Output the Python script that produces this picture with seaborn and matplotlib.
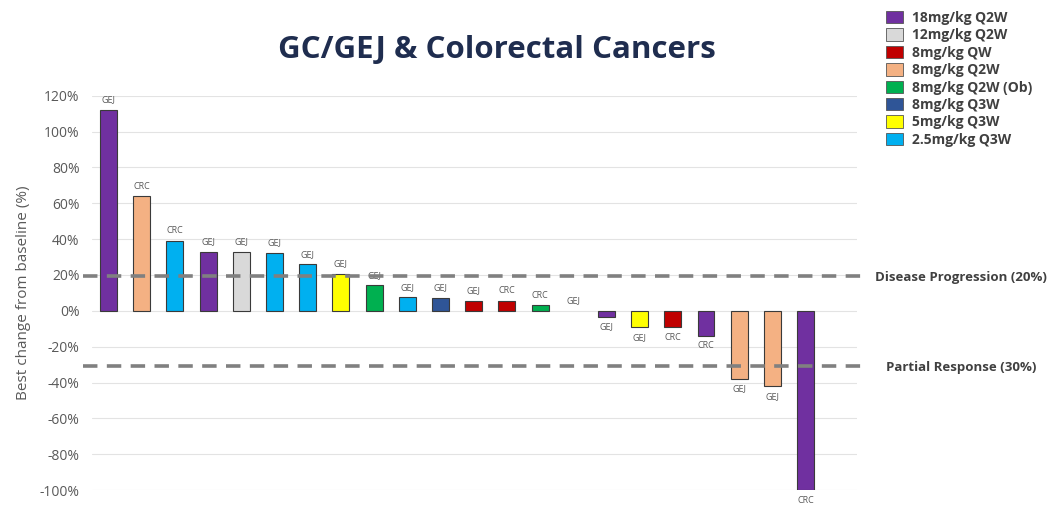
import matplotlib
matplotlib.use("Agg")
import matplotlib.pyplot as plt
import matplotlib.transforms as mtransforms
from matplotlib.patches import Patch
import seaborn as sns
import pandas as pd

# ---- data ----
tumor = ["GEJ", "CRC", "CRC", "GEJ", "GEJ", "GEJ", "GEJ", "GEJ", "GEJ", "GEJ", "GEJ",
         "GEJ", "CRC", "CRC", "GEJ", "GEJ", "GEJ", "CRC", "CRC", "GEJ", "GEJ", "CRC"]
change = [112, 64, 39, 33, 33, 32.5, 26, 20.5, 14.3, 7.6, 7.1,
          5.6, 5.6, 3.2, 0, -3.2, -9.1, -9.3, -14, -38, -42, -100]
dose = ["18mg/kg Q2W", "8mg/kg Q2W", "2.5mg/kg Q3W", "18mg/kg Q2W", "12mg/kg Q2W",
        "2.5mg/kg Q3W", "2.5mg/kg Q3W", "5mg/kg Q3W", "8mg/kg Q2W (Ob)", "2.5mg/kg Q3W",
        "8mg/kg Q3W", "8mg/kg QW", "8mg/kg QW", "8mg/kg Q2W (Ob)", "8mg/kg Q2W",
        "18mg/kg Q2W", "5mg/kg Q3W", "8mg/kg QW", "18mg/kg Q2W", "8mg/kg Q2W",
        "8mg/kg Q2W", "18mg/kg Q2W"]
legend_labels = ["18mg/kg Q2W", "12mg/kg Q2W", "8mg/kg QW", "8mg/kg Q2W",
                 "8mg/kg Q2W (Ob)", "8mg/kg Q3W", "5mg/kg Q3W", "2.5mg/kg Q3W"]
legend_colors = ["#7030A0", "#D9D9D9", "#C00000", "#F4B183",
                 "#00B050", "#2F5597", "#FFFF00", "#00B0F0"]
yticks = [-100, -80, -60, -40, -20, 0, 20, 40, 60, 80, 100, 120]
pd_line = 19.5
pr_line = -31

color_map = dict(zip(legend_labels, legend_colors))
df = pd.DataFrame({"pos": list(range(len(change))), "change": change,
                   "dose": dose, "tumor": tumor})

sns.set_style("white")
plt.rcParams["font.family"] = ["Open Sans", "DejaVu Sans"]

fig = plt.figure(figsize=(10.62, 5.08), dpi=100)
ax = fig.add_axes([0.0866, 0.0354, 0.7204, 0.776])

bar_colors = [color_map[d] for d in dose]
sns.barplot(data=df, x="pos", y="change", hue="pos", palette=bar_colors,
            legend=False, width=0.51, edgecolor="#3a3a3a", linewidth=0.8,
            saturation=1, ax=ax, zorder=3)
for p in ax.patches:
    if abs(p.get_height()) < 1e-9:
        p.set_linewidth(0)

ax.set_xlim(-0.5, 22.55)
ax.set_ylim(-100, 120)
ax.set_yticks(yticks)
ax.set_yticklabels([f"{t}%" for t in yticks], color="#595959", fontsize=10)
ax.set_xticks([])
ax.set_xlabel("")
ax.set_ylabel("Best change from baseline (%)", color="#595959", fontsize=11, labelpad=6)
ax.grid(axis="y", color="#E3E3E3", linewidth=0.8, zorder=0)
for s in ax.spines.values():
    s.set_visible(False)
ax.tick_params(axis="y", length=0, pad=9)

# labels on bars
for i, (v, t) in enumerate(zip(change, tumor)):
    if v >= 0:
        ax.annotate(t, (i, v), xytext=(0, 4), textcoords="offset points",
                    ha="center", va="bottom", fontsize=6.5, color="#595959",
                    annotation_clip=False)
    else:
        ax.annotate(t, (i, v), xytext=(0, -4), textcoords="offset points",
                    ha="center", va="top", fontsize=6.5, color="#595959",
                    annotation_clip=False)

# reference lines
trans = mtransforms.blended_transform_factory(ax.transAxes, ax.transData)
for yv in (pd_line, pr_line):
    ax.plot([-0.012, 1.005], [yv, yv], transform=trans, color="#808080",
            linewidth=2.6, dashes=(4, 2.6), clip_on=False, zorder=4)

fig.text(0.905, 1 - 277 / 508, "Disease Progression (20%)", ha="center", va="center",
         fontsize=9.5, fontweight="bold", color="#404040")
fig.text(0.905, 1 - 367 / 508, "Partial Response (30%)", ha="center", va="center",
         fontsize=9.5, fontweight="bold", color="#404040")

fig.text(0.468, 1 - 50 / 508, "GC/GEJ & Colorectal Cancers", ha="center", va="center",
         fontsize=22.5, fontweight="bold", color="#1F2D4F")

handles = [Patch(facecolor=c, edgecolor="#555555", linewidth=0.6) for c in legend_colors]
leg = fig.legend(handles, legend_labels, loc="upper left",
                 bbox_to_anchor=(0.829, 0.99), frameon=False, fontsize=10,
                 handlelength=1.2, handleheight=1.0, handletextpad=0.7,
                 labelspacing=0.25, borderaxespad=0)
for txt in leg.get_texts():
    txt.set_fontweight("bold")
    txt.set_color("#404040")

fig.savefig("out.png", dpi=100, facecolor="white")
